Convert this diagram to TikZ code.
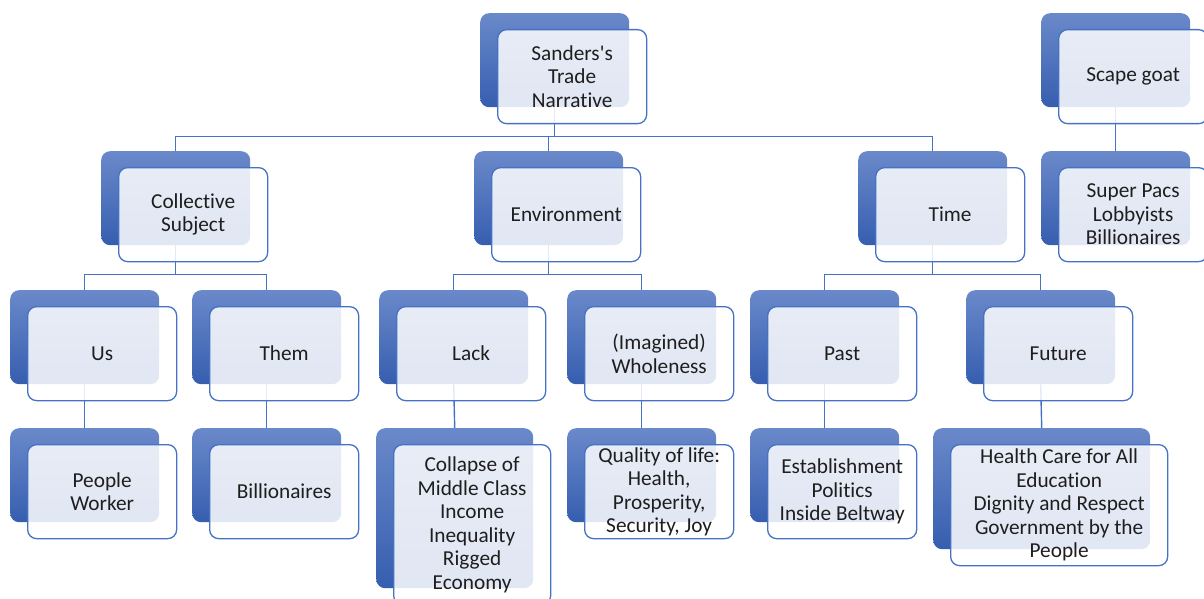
\documentclass[tikz,border=0pt]{standalone}
\usepackage{fontspec}
\setmainfont[Ligatures=NoCommon]{Carlito}
\usepackage{tikz}
\usetikzlibrary{backgrounds}
\definecolor{boxTop}{RGB}{106,137,202}
\definecolor{boxBottom}{RGB}{54,94,175}
\definecolor{edgeBlue}{RGB}{68,114,196}
\definecolor{inkText}{RGB}{30,30,30}
\tikzset{
  backbox/.style={rounded corners=9pt,top color=boxTop,bottom color=boxBottom,
    anchor=north west,inner sep=0pt},
  frontbox/.style={rounded corners=9pt,draw=edgeBlue,line width=1.3pt,
    fill=white,fill opacity=0.85,text opacity=1,text=inkText,
    anchor=north west,align=center,inner sep=2pt,
    font=\fontsize{21.3}{23.5}\selectfont},
  link/.style={edgeBlue,line width=1.4pt}
}
% blue block with the lighter text card laid over it
\newcommand{\tierbox}[6]{%
  \node[backbox,minimum width=#4pt,minimum height=#5pt] (#1) at (#2,#3) {};
  \node[frontbox,minimum width=#4pt,minimum height=#5pt] (#1-t)
    at ([shift={(17,16)}]#1.north west) {#6};}

\begin{document}
\begin{tikzpicture}[x=1pt,y=-1pt]
  \useasboundingbox (0,0) rectangle (1204,599);
  % ---- top row
  \tierbox{root}{480}{13}{149}{94}{Sanders\textquotesingle s\\Trade\\Narrative}
  \tierbox{scape}{1041}{13}{149}{94}{Scape goat}
  % ---- second row
  \tierbox{coll}{101}{151}{149}{94}{Collective\\Subject}
  \tierbox{env}{474}{151}{149}{94}{Environment}
  \tierbox{time}{858}{151}{149}{94}{Time}
  \tierbox{pacs}{1041}{151}{149}{94}{Super Pacs\\Lobbyists\\Billionaires}
  % ---- third row
  \tierbox{us}{10}{290}{149}{94}{Us}
  \tierbox{them}{192}{290}{149}{94}{Them}
  \tierbox{lack}{379}{290}{149}{94}{Lack}
  \tierbox{whole}{567}{290}{149}{94}{(Imagined)\\Wholeness}
  \tierbox{past}{750}{290}{149}{94}{Past}
  \tierbox{future}{966}{290}{149}{94}{Future}
  % ---- bottom row
  \tierbox{people}{10}{428}{149}{94}{People\\Worker}
  \tierbox{bill}{192}{428}{149}{94}{Billionaires}
  \tierbox{collapse}{376}{428}{157}{160}{Collapse of\\Middle Class\\Income\\Inequality\\Rigged\\Economy}
  \tierbox{quality}{567}{428}{149}{94}{Quality of life:\\Health,\\Prosperity,\\Security, Joy}
  \tierbox{estab}{750}{428}{149}{94}{Establishment\\Politics\\Inside Beltway}
  \tierbox{health}{933}{428}{217}{121}{Health Care for All\\Education\\Dignity and Respect\\Government by the\\People}
  % ---- connectors, kept under the cards
  \begin{scope}[on background layer]
    \foreach \kid in {coll,env,time}
      \draw[link] (root.south) -- ++(0,29) -| (\kid.north);
    \foreach \kid in {us,them}
      \draw[link] (coll.south) -- ++(0,29) -| (\kid.north);
    \foreach \kid in {lack,whole}
      \draw[link] (env.south) -- ++(0,29) -| (\kid.north);
    \foreach \kid in {past,future}
      \draw[link] (time.south) -- ++(0,29) -| (\kid.north);
    \draw[link] (scape.south) -- (pacs.north);
    \draw[link] (us.south) -- (people.north);
    \draw[link] (them.south) -- (bill.north);
    \draw[link] (lack.south) -- (collapse.north);
    \draw[link] (whole.south) -- (quality.north);
    \draw[link] (past.south) -- (estab.north);
    \draw[link] (future.south) -- (health.north);
  \end{scope}
\end{tikzpicture}
\end{document}
